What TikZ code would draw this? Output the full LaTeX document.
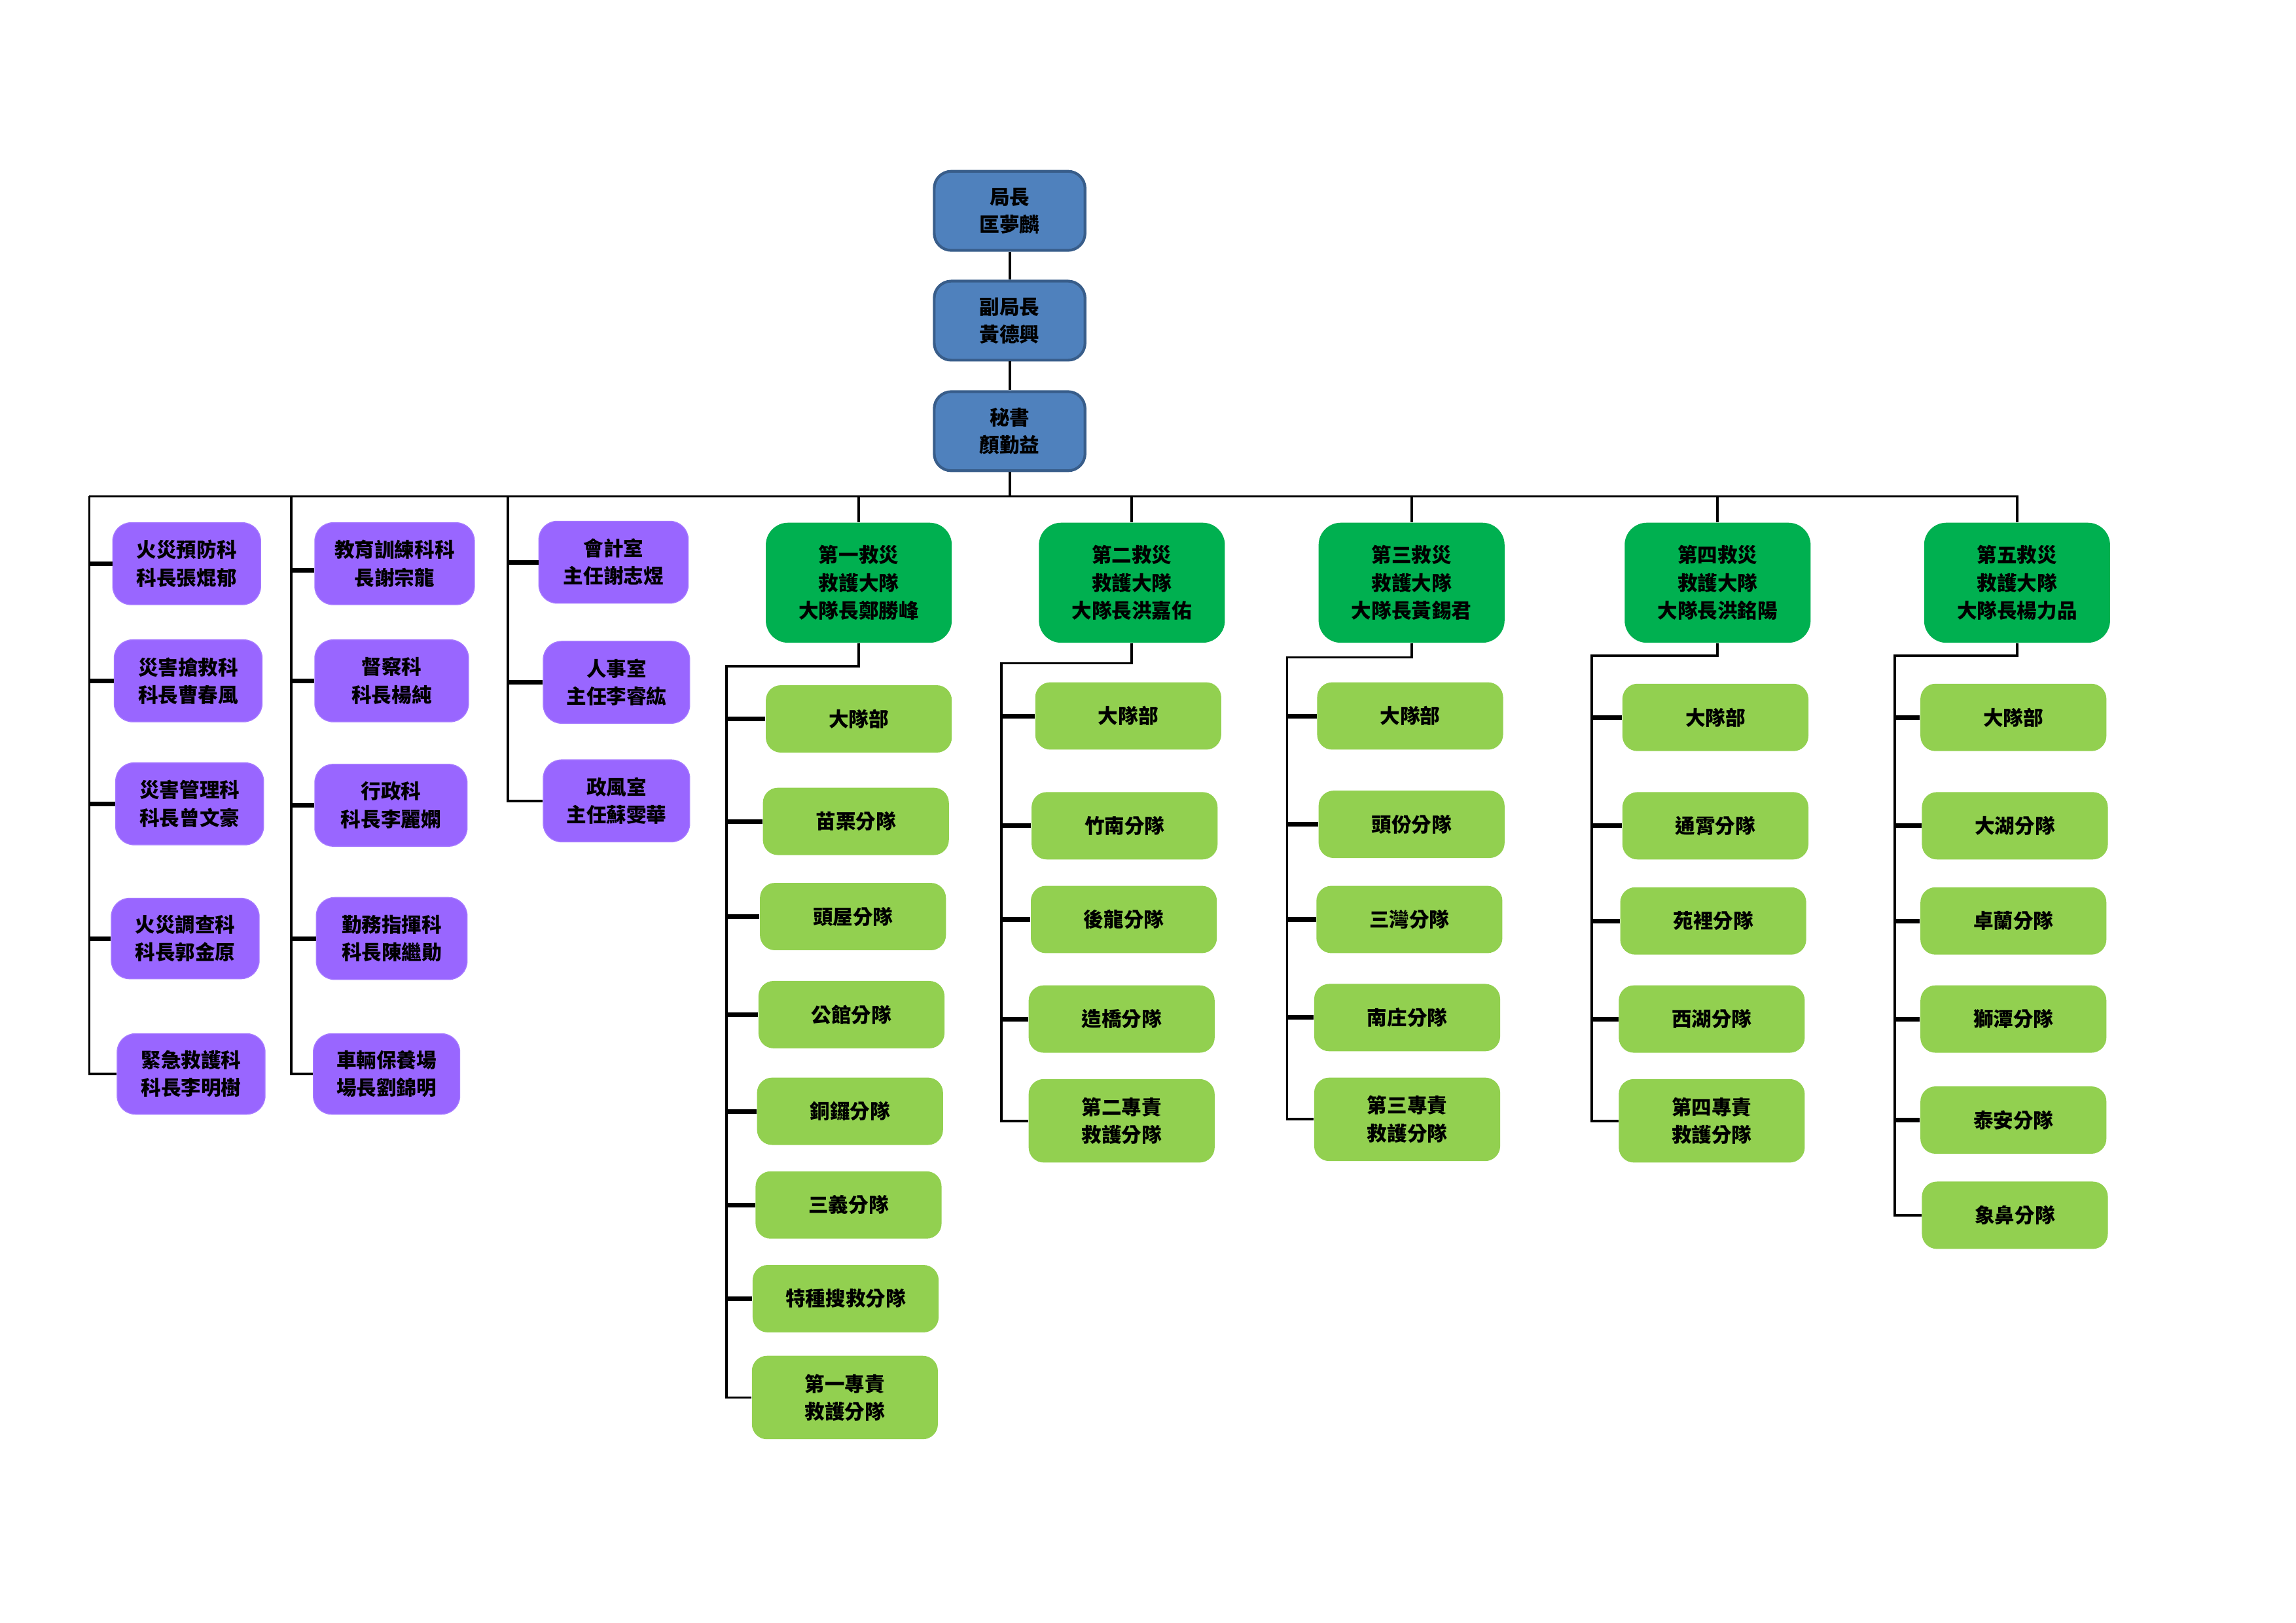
\documentclass[tikz,border=0pt]{standalone}
\usepackage{fontspec}
\newfontfamily\cjk{Noto Sans CJK TC}
\definecolor{bluefill}{HTML}{4F81BD}
\definecolor{blueline}{HTML}{385D8A}
\definecolor{purplefill}{HTML}{9966FF}
\definecolor{purpleline}{HTML}{A67AFF}
\definecolor{headgreen}{HTML}{00B050}
\definecolor{subgreen}{HTML}{92D050}
\begin{document}
\begin{tikzpicture}[x=0.022372cm, y=-0.022372cm,
  every node/.style={font=\cjk\bfseries\fontsize{8.7}{12}\selectfont, align=center, inner sep=0pt, text=black},
  sz/.style 2 args={minimum width=#1*0.022372cm, minimum height=#2*0.022372cm},
  topbox/.style={fill=bluefill, draw=blueline, line width=1.2pt, rounded corners=0.26cm, sz={103}{54}},
  pbox/.style={fill=purplefill, draw=purpleline, line width=0.4pt, rounded corners=0.28cm},
  hbox/.style={fill=headgreen, rounded corners=0.34cm, sz={127}{82}},
  sbox/.style={fill=subgreen, rounded corners=0.23cm, sz={127}{46}},
  dbox/.style={fill=subgreen, rounded corners=0.23cm, sz={127}{57}},
  mainline/.style={line width=1.1pt, black},
  tick/.style={line width=2pt, black}]
\useasboundingbox (0,0) rectangle (1568,1108.5);

% top chain
\node[topbox] (chief) at (689.5,144) {局長\\匡夢麟};
\node[topbox] (deputy) at (689.5,219) {副局長\\黃德興};
\node[topbox] (secr) at (689.5,294.5) {秘書\\顏勤益};

% purple column 1
\node[pbox, sz={101}{56}] (p11) at (127.5,385) {火災預防科\\科長張焜郁};
\node[pbox, sz={101}{56}] (p12) at (128.5,465) {災害搶救科\\科長曹春風};
\node[pbox, sz={101}{56}] (p13) at (129.5,549) {災害管理科\\科長曾文豪};
\node[pbox, sz={101}{55}] (p14) at (126.5,641) {火災調查科\\科長郭金原};
\node[pbox, sz={101}{55}] (p15) at (130.5,733.5) {緊急救護科\\科長李明樹};

% purple column 2
\node[pbox, sz={109}{56}] (p21) at (269.5,385) {教育訓練科科\\長謝宗龍};
\node[pbox, sz={105}{56}] (p22) at (267.5,465) {督察科\\科長楊純};
\node[pbox, sz={104}{56}] (p23) at (267,550) {行政科\\科長李麗嫻};
\node[pbox, sz={103}{56}] (p24) at (267.5,641) {勤務指揮科\\科長陳繼勛};
\node[pbox, sz={100}{55}] (p25) at (264,733.5) {車輛保養場\\場長劉錦明};

% purple column 3
\node[pbox, sz={102}{56}] (p31) at (419,384) {會計室\\主任謝志煜};
\node[pbox, sz={100}{56}] (p32) at (421,466) {人事室\\主任李睿紘};
\node[pbox, sz={100}{56}] (p33) at (421,547) {政風室\\主任蘇雯華};

% green headers
\node[hbox] (g1) at (586.5,398) {第一救災\\救護大隊\\大隊長鄭勝峰};
\node[hbox] (g2) at (773,398) {第二救災\\救護大隊\\大隊長洪嘉佑};
\node[hbox] (g3) at (964,398) {第三救災\\救護大隊\\大隊長黃錫君};
\node[hbox] (g4) at (1173,398) {第四救災\\救護大隊\\大隊長洪銘陽};
\node[hbox] (g5) at (1377.5,398) {第五救災\\救護大隊\\大隊長楊力品};

% group 1
\node[sbox] (a1) at (586.5,491) {大隊部};
\node[sbox] (a2) at (584.5,561) {苗栗分隊};
\node[sbox] (a3) at (582.5,626) {頭屋分隊};
\node[sbox] (a4) at (581.5,693) {公館分隊};
\node[sbox] (a5) at (580.5,759) {銅鑼分隊};
\node[sbox] (a6) at (579.5,823) {三義分隊};
\node[sbox] (a7) at (577.5,887) {特種搜救分隊};
\node[dbox] (a8) at (577,954.5) {第一專責\\救護分隊};

% group 2
\node[sbox] (b1) at (770.5,489) {大隊部};
\node[sbox] (b2) at (768,564) {竹南分隊};
\node[sbox] (b3) at (767.5,628) {後龍分隊};
\node[sbox] (b4) at (766,696) {造橋分隊};
\node[dbox] (b5) at (766,765.5) {第二專責\\救護分隊};

% group 3
\node[sbox] (c1) at (963,489) {大隊部};
\node[sbox] (c2) at (964,563) {頭份分隊};
\node[sbox] (c3) at (962.5,628) {三灣分隊};
\node[sbox] (c4) at (961,695) {南庄分隊};
\node[dbox] (c5) at (961,764.5) {第三專責\\救護分隊};

% group 4
\node[sbox] (d1) at (1171.5,490) {大隊部};
\node[sbox] (d2) at (1171.5,564) {通霄分隊};
\node[sbox] (d3) at (1170,629) {苑裡分隊};
\node[sbox] (d4) at (1169,696) {西湖分隊};
\node[dbox] (d5) at (1169,765.5) {第四專責\\救護分隊};

% group 5
\node[sbox] (e1) at (1375,490) {大隊部};
\node[sbox] (e2) at (1376,564) {大湖分隊};
\node[sbox] (e3) at (1375,629) {卓蘭分隊};
\node[sbox] (e4) at (1375,696) {獅潭分隊};
\node[sbox] (e5) at (1375,765) {泰安分隊};
\node[sbox] (e6) at (1376,830) {象鼻分隊};

% bus coordinates
\coordinate (busL) at (61,339);
\coordinate (col2) at (199,339);
\coordinate (col3) at (347,339);
\coordinate (j1) at (496,455);
\coordinate (j2) at (684,453);
\coordinate (j3) at (879,449);
\coordinate (j4) at (1087,448);
\coordinate (j5) at (1294,448);

% top chain connectors
\draw[mainline] (chief) -- (deputy);
\draw[mainline] (deputy) -- (secr);
\draw[mainline] (secr.south) -- (secr.south |- busL);
\draw[mainline] (busL) -- (g5.north |- busL) -- (g5.north);

% purple columns
\draw[mainline] (busL) |- (p15.west);
\foreach \n in {p11,p12,p13,p14} \draw[tick] (busL |- \n.west) -- (\n.west);
\draw[mainline] (col2) |- (p25.west);
\draw[tick] ([yshift=-0.1cm]col2 |- p21.west) -- ([yshift=-0.1cm]p21.west);
\foreach \n in {p22,p23,p24} \draw[tick] (col2 |- \n.west) -- (\n.west);
\draw[mainline] (col3) |- (p33.west);
\foreach \n in {p31,p32} \draw[tick] (col3 |- \n.west) -- (\n.west);

% green header drops
\foreach \g in {g1,g2,g3,g4} \draw[mainline] (\g.north |- busL) -- (\g.north);

% group trees
\draw[mainline] (g1.south) |- (j1) |- (a8.west);
\foreach \n in {a1,a2,a3,a4,a5,a6,a7} \draw[tick] (j1 |- \n.west) -- (\n.west);
\draw[mainline] (g2.south) |- (j2) |- (b5.west);
\foreach \n in {b1,b2,b3,b4} \draw[tick] (j2 |- \n.west) -- (\n.west);
\draw[mainline] (g3.south) |- (j3) |- (c5.west);
\foreach \n in {c1,c2,c3,c4} \draw[tick] (j3 |- \n.west) -- (\n.west);
\draw[mainline] (g4.south) |- (j4) |- (d5.west);
\foreach \n in {d1,d2,d3,d4} \draw[tick] (j4 |- \n.west) -- (\n.west);
\draw[mainline] (g5.south) |- (j5) |- (e6.west);
\foreach \n in {e1,e2,e3,e4,e5} \draw[tick] (j5 |- \n.west) -- (\n.west);
\end{tikzpicture}
\end{document}
